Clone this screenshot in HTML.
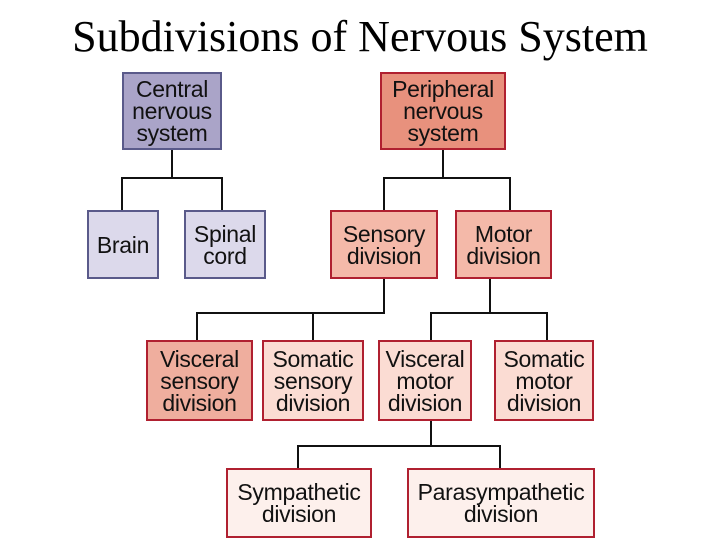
<!DOCTYPE html>
<html><head><style>
body{margin:0;width:720px;height:540px;background:#fff;overflow:hidden;position:relative;font-family:"Liberation Sans",sans-serif}
.t{position:absolute;left:0;width:720px;top:12px;text-align:center;font-family:"Liberation Serif",serif;font-size:44px;line-height:50px;color:#000}
.b{position:absolute;box-sizing:border-box;display:flex;align-items:center;justify-content:center;text-align:center;font-size:23px;line-height:22px;letter-spacing:-0.3px;color:#111;border:2px solid #b02030}
.p{border-color:#5a5a8a}
.l{position:absolute;background:#111}
</style></head><body>
<div class="t">Subdivisions of Nervous System</div>
<div class="b p" style="left:122px;top:72px;width:100px;height:78px;background:#aaa4c8">Central<br>nervous<br>system</div>
<div class="b" style="left:380px;top:72px;width:126px;height:78px;background:#e8917d">Peripheral<br>nervous<br>system</div>
<div class="b p" style="left:87px;top:210px;width:72px;height:69px;background:#dcd9eb">Brain</div>
<div class="b p" style="left:184px;top:210px;width:82px;height:69px;background:#dcd9eb">Spinal<br>cord</div>
<div class="b" style="left:330px;top:210px;width:108px;height:69px;background:#f4b9a9">Sensory<br>division</div>
<div class="b" style="left:455px;top:210px;width:97px;height:69px;background:#f4b9a9">Motor<br>division</div>
<div class="b" style="left:146px;top:340px;width:107px;height:81px;background:#efae9e">Visceral<br>sensory<br>division</div>
<div class="b" style="left:262px;top:340px;width:102px;height:81px;background:#fbdcd3">Somatic<br>sensory<br>division</div>
<div class="b" style="left:378px;top:340px;width:94px;height:81px;background:#fbdcd3">Visceral<br>motor<br>division</div>
<div class="b" style="left:494px;top:340px;width:100px;height:81px;background:#fbdcd3">Somatic<br>motor<br>division</div>
<div class="b" style="left:226px;top:468px;width:146px;height:70px;background:#fdf0ec">Sympathetic<br>division</div>
<div class="b" style="left:407px;top:468px;width:188px;height:70px;background:#fdf0ec">Parasympathetic<br>division</div>
<div class="l" style="left:171px;top:150px;width:2px;height:29px"></div>
<div class="l" style="left:121px;top:177px;width:102px;height:2px"></div>
<div class="l" style="left:121px;top:177px;width:2px;height:33px"></div>
<div class="l" style="left:221px;top:177px;width:2px;height:33px"></div>
<div class="l" style="left:442px;top:150px;width:2px;height:29px"></div>
<div class="l" style="left:383px;top:177px;width:128px;height:2px"></div>
<div class="l" style="left:383px;top:177px;width:2px;height:33px"></div>
<div class="l" style="left:509px;top:177px;width:2px;height:33px"></div>
<div class="l" style="left:383px;top:279px;width:2px;height:35px"></div>
<div class="l" style="left:196px;top:312px;width:189px;height:2px"></div>
<div class="l" style="left:196px;top:312px;width:2px;height:28px"></div>
<div class="l" style="left:312px;top:312px;width:2px;height:28px"></div>
<div class="l" style="left:489px;top:279px;width:2px;height:35px"></div>
<div class="l" style="left:430px;top:312px;width:118px;height:2px"></div>
<div class="l" style="left:430px;top:312px;width:2px;height:28px"></div>
<div class="l" style="left:546px;top:312px;width:2px;height:28px"></div>
<div class="l" style="left:430px;top:421px;width:2px;height:26px"></div>
<div class="l" style="left:297px;top:445px;width:204px;height:2px"></div>
<div class="l" style="left:297px;top:445px;width:2px;height:23px"></div>
<div class="l" style="left:499px;top:445px;width:2px;height:23px"></div>
</body></html>
